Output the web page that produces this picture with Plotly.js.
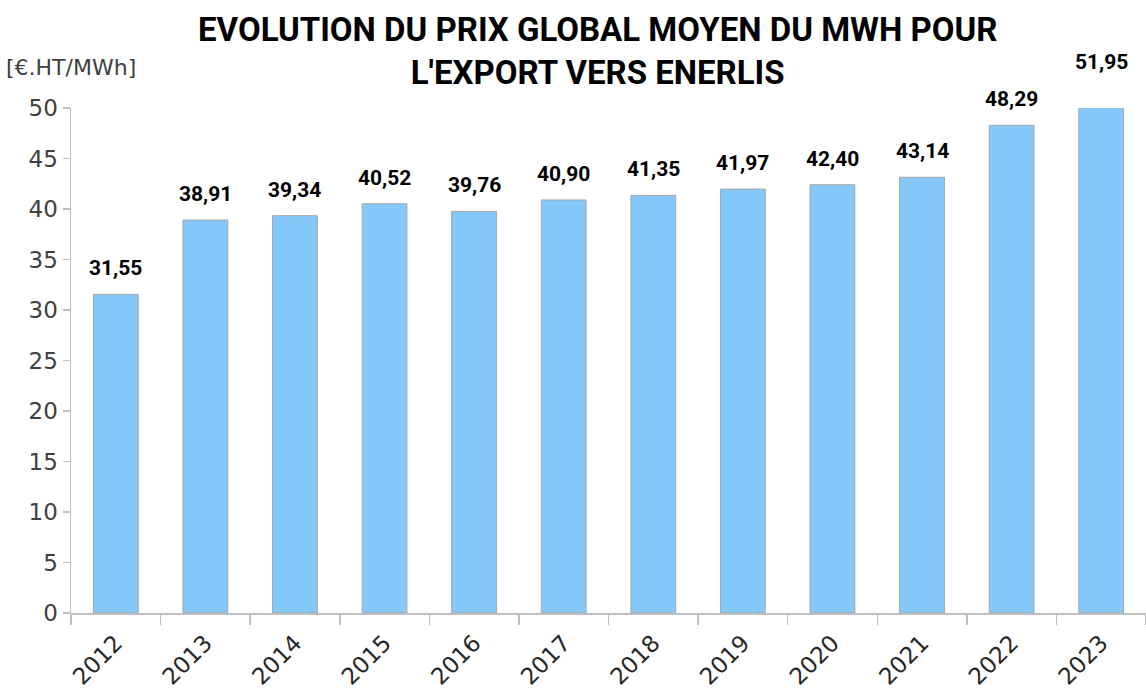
<!DOCTYPE html>
<html>
<head>
<meta charset="utf-8">
<script src="https://cdn.plot.ly/plotly-3.0.1.min.js"></script>
<style>
html,body{margin:0;padding:0;background:#fff;}
#chart{width:1146px;height:693px;}
</style>
</head>
<body>
<div id="chart"></div>
<script>
const years = ["2012","2013","2014","2015","2016","2017","2018","2019","2020","2021","2022","2023"];
const prices = [31.55, 38.91, 39.34, 40.52, 39.76, 40.90, 41.35, 41.97, 42.40, 43.14, 48.29, 51.95];
const yTicks = [0,5,10,15,20,25,30,35,40,45,50];
const yMax = 50;
const titleText = "EVOLUTION DU PRIX GLOBAL MOYEN DU MWH POUR<br>L'EXPORT VERS ENERLIS";
const unitLabel = "[€.HT/MWh]";

// value labels: placed in paper coordinates derived from the value and the axis range
// so the 2023 label (above the clipped axis max) is still drawn
const labelAnnotations = years.map((yr, i) => ({
  x: i, y: prices[i] / yMax, xref: "x", yref: "paper",
  text: prices[i].toFixed(2).replace(".", ","),
  showarrow: false, yanchor: "middle", yshift: 26,
  font: {family: "Roboto, 'DejaVu Sans', sans-serif", size: 21, color: "#000", weight: 700}
}));

const data = [{
  type: "bar",
  x: years,
  y: prices,
  width: 0.5,
  marker: {color: "#85C8FA", line: {color: "#A6A6A6", width: 1}},
  hoverinfo: "x+y"
}];

const layout = {
  width: 1146, height: 693,
  margin: {l: 71, r: 0, t: 108, b: 80},
  paper_bgcolor: "#fff", plot_bgcolor: "#fff",
  showlegend: false,
  xaxis: {
    type: "category",
    range: [-0.5, 11.5],
    tickson: "boundaries",
    ticks: "outside", ticklen: 10, tickcolor: "#BFBFBF", tickwidth: 1.5,
    showline: true, linecolor: "#BFBFBF", linewidth: 1.5,
    showgrid: false, zeroline: false,
    tickangle: -45,
    ticklabelstandoff: 6,
    tickfont: {family: "'DejaVu Sans', sans-serif", size: 23, color: "#262626"}
  },
  yaxis: {
    range: [0, yMax],
    tickvals: yTicks,
    ticks: "outside", ticklen: 7, tickcolor: "#BFBFBF", tickwidth: 1.5,
    showline: true, linecolor: "#BFBFBF", linewidth: 1.5,
    showgrid: false, zeroline: false,
    tickfont: {family: "'DejaVu Sans', sans-serif", size: 23, color: "#404040"}
  },
  annotations: labelAnnotations.concat([{
    xref: "paper", yref: "paper", x: -0.062, y: 1.08,
    xanchor: "left", yanchor: "middle",
    text: unitLabel, showarrow: false,
    font: {family: "'DejaVu Sans', sans-serif", size: 22, color: "#404040"}
  }, {
    xref: "paper", yref: "paper", x: 0.4895, y: 1.113,
    xanchor: "center", yanchor: "middle",
    text: titleText, showarrow: false,
    font: {family: "Roboto, sans-serif", size: 33, color: "#000", weight: 700}
  }])
};

Plotly.newPlot("chart", data, layout, {displayModeBar: false, staticPlot: true});
</script>
</body>
</html>
